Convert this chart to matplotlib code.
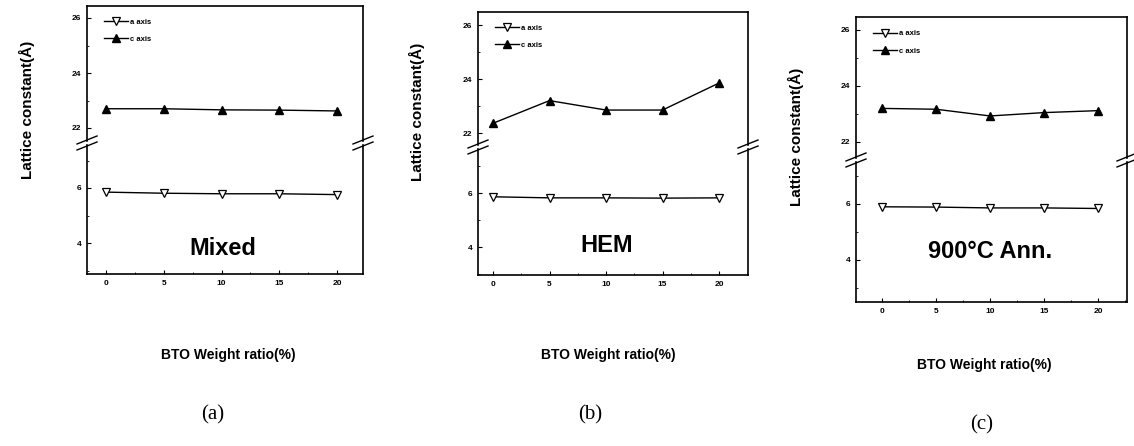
import matplotlib.pyplot as plt
from matplotlib.lines import Line2D
from matplotlib.ticker import MultipleLocator

# data
ratio = [0, 5, 10, 15, 20]

a_mixed = [5.85, 5.81, 5.79, 5.79, 5.76]
c_mixed = [22.70, 22.70, 22.66, 22.65, 22.62]

a_hem = [5.86, 5.82, 5.82, 5.81, 5.82]
c_hem = [22.36, 23.20, 22.85, 22.85, 23.85]

a_ann = [5.90, 5.89, 5.86, 5.86, 5.84]
c_ann = [23.20, 23.17, 22.93, 23.05, 23.12]

names = ["Mixed", "HEM", "900°C Ann."]
tags = ["(a)", "(b)", "(c)"]
series = [(a_mixed, c_mixed), (a_hem, c_hem), (a_ann, c_ann)]

upper_ticks = [22, 24, 26]
lower_ticks = [4, 6]

W, H = 1134, 446

# layout in pixels: left, right, top, y22, brk, y6, bottom, px/unit(y), x0, x20
layout = [
    (87, 363, 6, 128, 143, 188, 274, 27.5, 106, 337),
    (478, 748, 12, 133, 147, 193, 275, 27.0, 493, 719),
    (856, 1127, 17, 142, 160, 204, 302, 28.0, 882, 1098),
]
name_pos = [(223, 248), (607, 245), (990, 252)]
xlab_pos = [(228, 355), (608, 355), (984, 365)]
ylab_pos = [(27, 110), (417, 112), (796, 137)]
tag_pos = [(213, 415), (590, 415), (982, 425)]

plt.rcParams['font.family'] = ['Liberation Sans', 'DejaVu Sans']
plt.rcParams['font.weight'] = 'bold'

fig = plt.figure(figsize=(W / 100, H / 100), dpi=100)


def fx(px):
    return px / W


def fy(py):
    return 1 - py / H


def style(ax):
    ax.tick_params(direction='in', labelsize=6, width=0.8, length=3, pad=4)
    ax.tick_params(which='minor', direction='in', width=0.6, length=1.5)
    for t in ax.get_xticklabels() + ax.get_yticklabels():
        t.set_fontweight('bold')
    for s in ax.spines.values():
        s.set_linewidth(1.2)


for i, (lay, (a_vals, c_vals)) in enumerate(zip(layout, series)):
    left, right, top, y22, brk, y6, bottom, k, x0, x20 = lay
    kx = (x20 - x0) / 20.0
    xlim = (-(x0 - left) / kx, 20 + (right - x20) / kx)
    gap = 2
    up_lim = (22 - (brk - gap - y22) / k, 22 + (y22 - top) / k)
    lo_lim = (6 - (bottom - y6) / k, 6 + (y6 - brk - gap) / k)

    ax_up = fig.add_axes([fx(left), fy(brk - gap), fx(right - left), (brk - gap - top) / H])
    ax_lo = fig.add_axes([fx(left), fy(bottom), fx(right - left), (bottom - brk - gap) / H])

    for ax in (ax_up, ax_lo):
        ax.plot(ratio, a_vals, color='black', lw=1.0, marker='v', ms=5.5,
                mfc='white', mec='black', mew=0.9, label='a axis')
        ax.plot(ratio, c_vals, color='black', lw=1.0, marker='^', ms=5.5,
                mfc='black', mec='black', label='c axis')
        ax.set_xlim(*xlim)
        ax.xaxis.set_major_locator(MultipleLocator(5))
        ax.xaxis.set_minor_locator(MultipleLocator(2.5))
        ax.yaxis.set_minor_locator(MultipleLocator(1))

    ax_up.set_ylim(*up_lim)
    ax_lo.set_ylim(*lo_lim)
    ax_up.set_yticks(upper_ticks)
    ax_lo.set_yticks(lower_ticks)
    ax_up.spines['bottom'].set_visible(False)
    ax_lo.spines['top'].set_visible(False)
    ax_up.tick_params(axis='x', which='both', bottom=False, labelbottom=False)
    ax_up.tick_params(axis='y', which='both', right=False)
    style(ax_up)
    style(ax_lo)

    ax_up.legend(loc='upper left', bbox_to_anchor=(0.05, 0.93), frameon=False,
                 prop={'size': 5.5, 'weight': 'bold'}, handlelength=3.2,
                 handletextpad=0.2, labelspacing=1.3, borderaxespad=0)

    # axis break marks
    for xs in (left, right):
        for dy in (-3, 3):
            fig.add_artist(Line2D([fx(xs - 10), fx(xs + 10)],
                                  [fy(brk + dy + 4), fy(brk + dy - 4)],
                                  color='black', lw=1.0, transform=fig.transFigure))

    fig.text(fx(name_pos[i][0]), fy(name_pos[i][1]), names[i], ha='center', va='center',
             fontsize=17, fontweight='bold')
    fig.text(fx(xlab_pos[i][0]), fy(xlab_pos[i][1]), "BTO Weight ratio(%)", ha='center',
             va='center', fontsize=10, fontweight='bold')
    fig.text(fx(ylab_pos[i][0]), fy(ylab_pos[i][1]), "Lattice constant(Å)", ha='center',
             va='center', fontsize=11, fontweight='bold', rotation=90)
    fig.text(fx(tag_pos[i][0]), fy(tag_pos[i][1]), tags[i], ha='center', va='center',
             fontsize=15, fontweight='normal', family='Liberation Serif')

fig.savefig("out.png", dpi=100)
